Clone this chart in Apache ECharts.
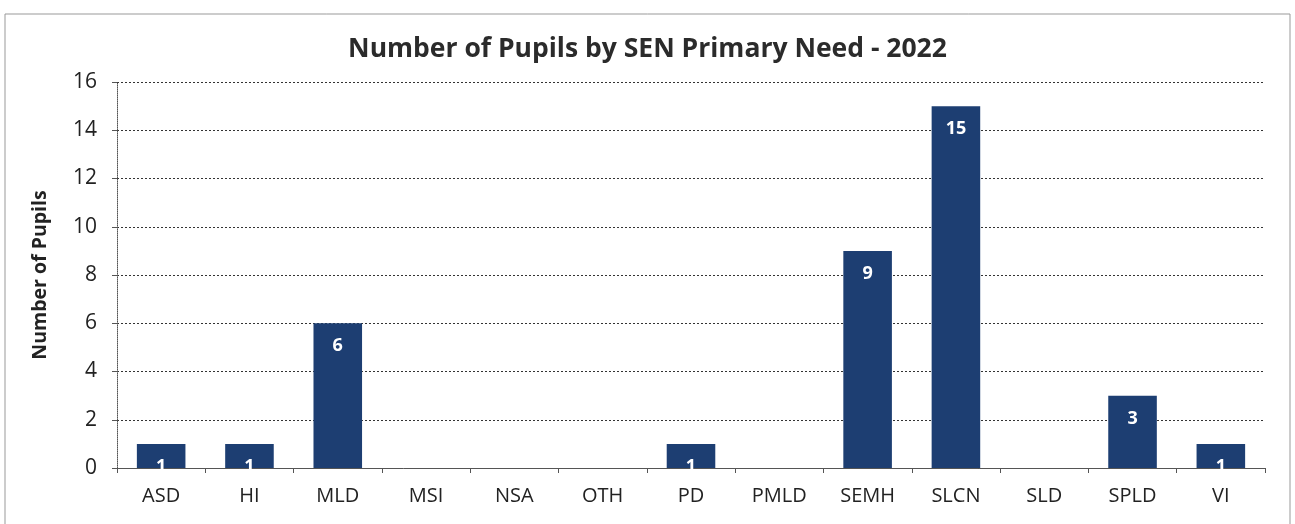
<!DOCTYPE html>
<html>
<head>
<meta charset="utf-8">
<script src="https://cdn.jsdelivr.net/npm/echarts@6/dist/echarts.min.js"></script>
<style>
  html, body { margin: 0; padding: 0; background: #fff; }
  #chart { width: 1295px; height: 524px; }
</style>
</head>
<body>
<div id="chart"></div>
<script>
const categories = ["ASD", "HI", "MLD", "MSI", "NSA", "OTH", "PD", "PMLD", "SEMH", "SLCN", "SLD", "SPLD", "VI"];
const pupils = [1, 1, 6, 0, 0, 0, 1, 0, 9, 15, 0, 3, 1];
const yTicks = [0, 2, 4, 6, 8, 10, 12, 14, 16];

const font = "'Open Sans', sans-serif";
const chart = echarts.init(document.getElementById("chart"));

chart.setOption({
  animation: false,
  title: {
    text: "Number of Pupils by SEN Primary Need - 2022",
    left: "center",
    top: 31,
    textStyle: { fontFamily: font, fontSize: 26.5, fontWeight: "bold", color: "#2b2b2b" }
  },
  graphic: [{
    type: "rect",
    shape: { x: 5, y: 14, width: 1285, height: 530 },
    style: { fill: "none", stroke: "#999", lineWidth: 1 }
  }],
  grid: { left: 117, right: 30, top: 82, bottom: 56 },
  xAxis: {
    type: "category",
    data: categories,
    axisLine: { lineStyle: { color: "#555" } },
    axisTick: { show: true, alignWithLabel: false, lineStyle: { color: "#555" } },
    axisLabel: { fontFamily: font, fontSize: 20, color: "#222", margin: 18 }
  },
  yAxis: {
    type: "value",
    min: yTicks[0],
    max: yTicks[yTicks.length - 1],
    interval: 2,
    name: "Number of Pupils",
    nameLocation: "middle",
    nameGap: 67,
    nameTextStyle: { fontFamily: font, fontSize: 19.5, fontWeight: "bold", color: "#222" },
    axisLine: { show: true, lineStyle: { color: "#555", type: "dotted" } },
    axisTick: { show: true, lineStyle: { color: "#555" } },
    axisLabel: { fontFamily: font, fontSize: 21, color: "#222", margin: 20 },
    splitLine: { lineStyle: { color: "#333", type: [2, 2], width: 1 } }
  },
  series: [{
    type: "bar",
    data: pupils,
    barWidth: "55%",
    itemStyle: { color: "#1d3e72" },
    label: {
      show: true,
      position: "insideTop",
      distance: 14,
      fontFamily: font,
      fontSize: 18,
      fontWeight: "bold",
      color: "#fff",
      formatter: p => (p.value > 0 ? p.value : "")
    }
  }]
});

window.addEventListener("resize", () => chart.resize());
</script>
</body>
</html>
